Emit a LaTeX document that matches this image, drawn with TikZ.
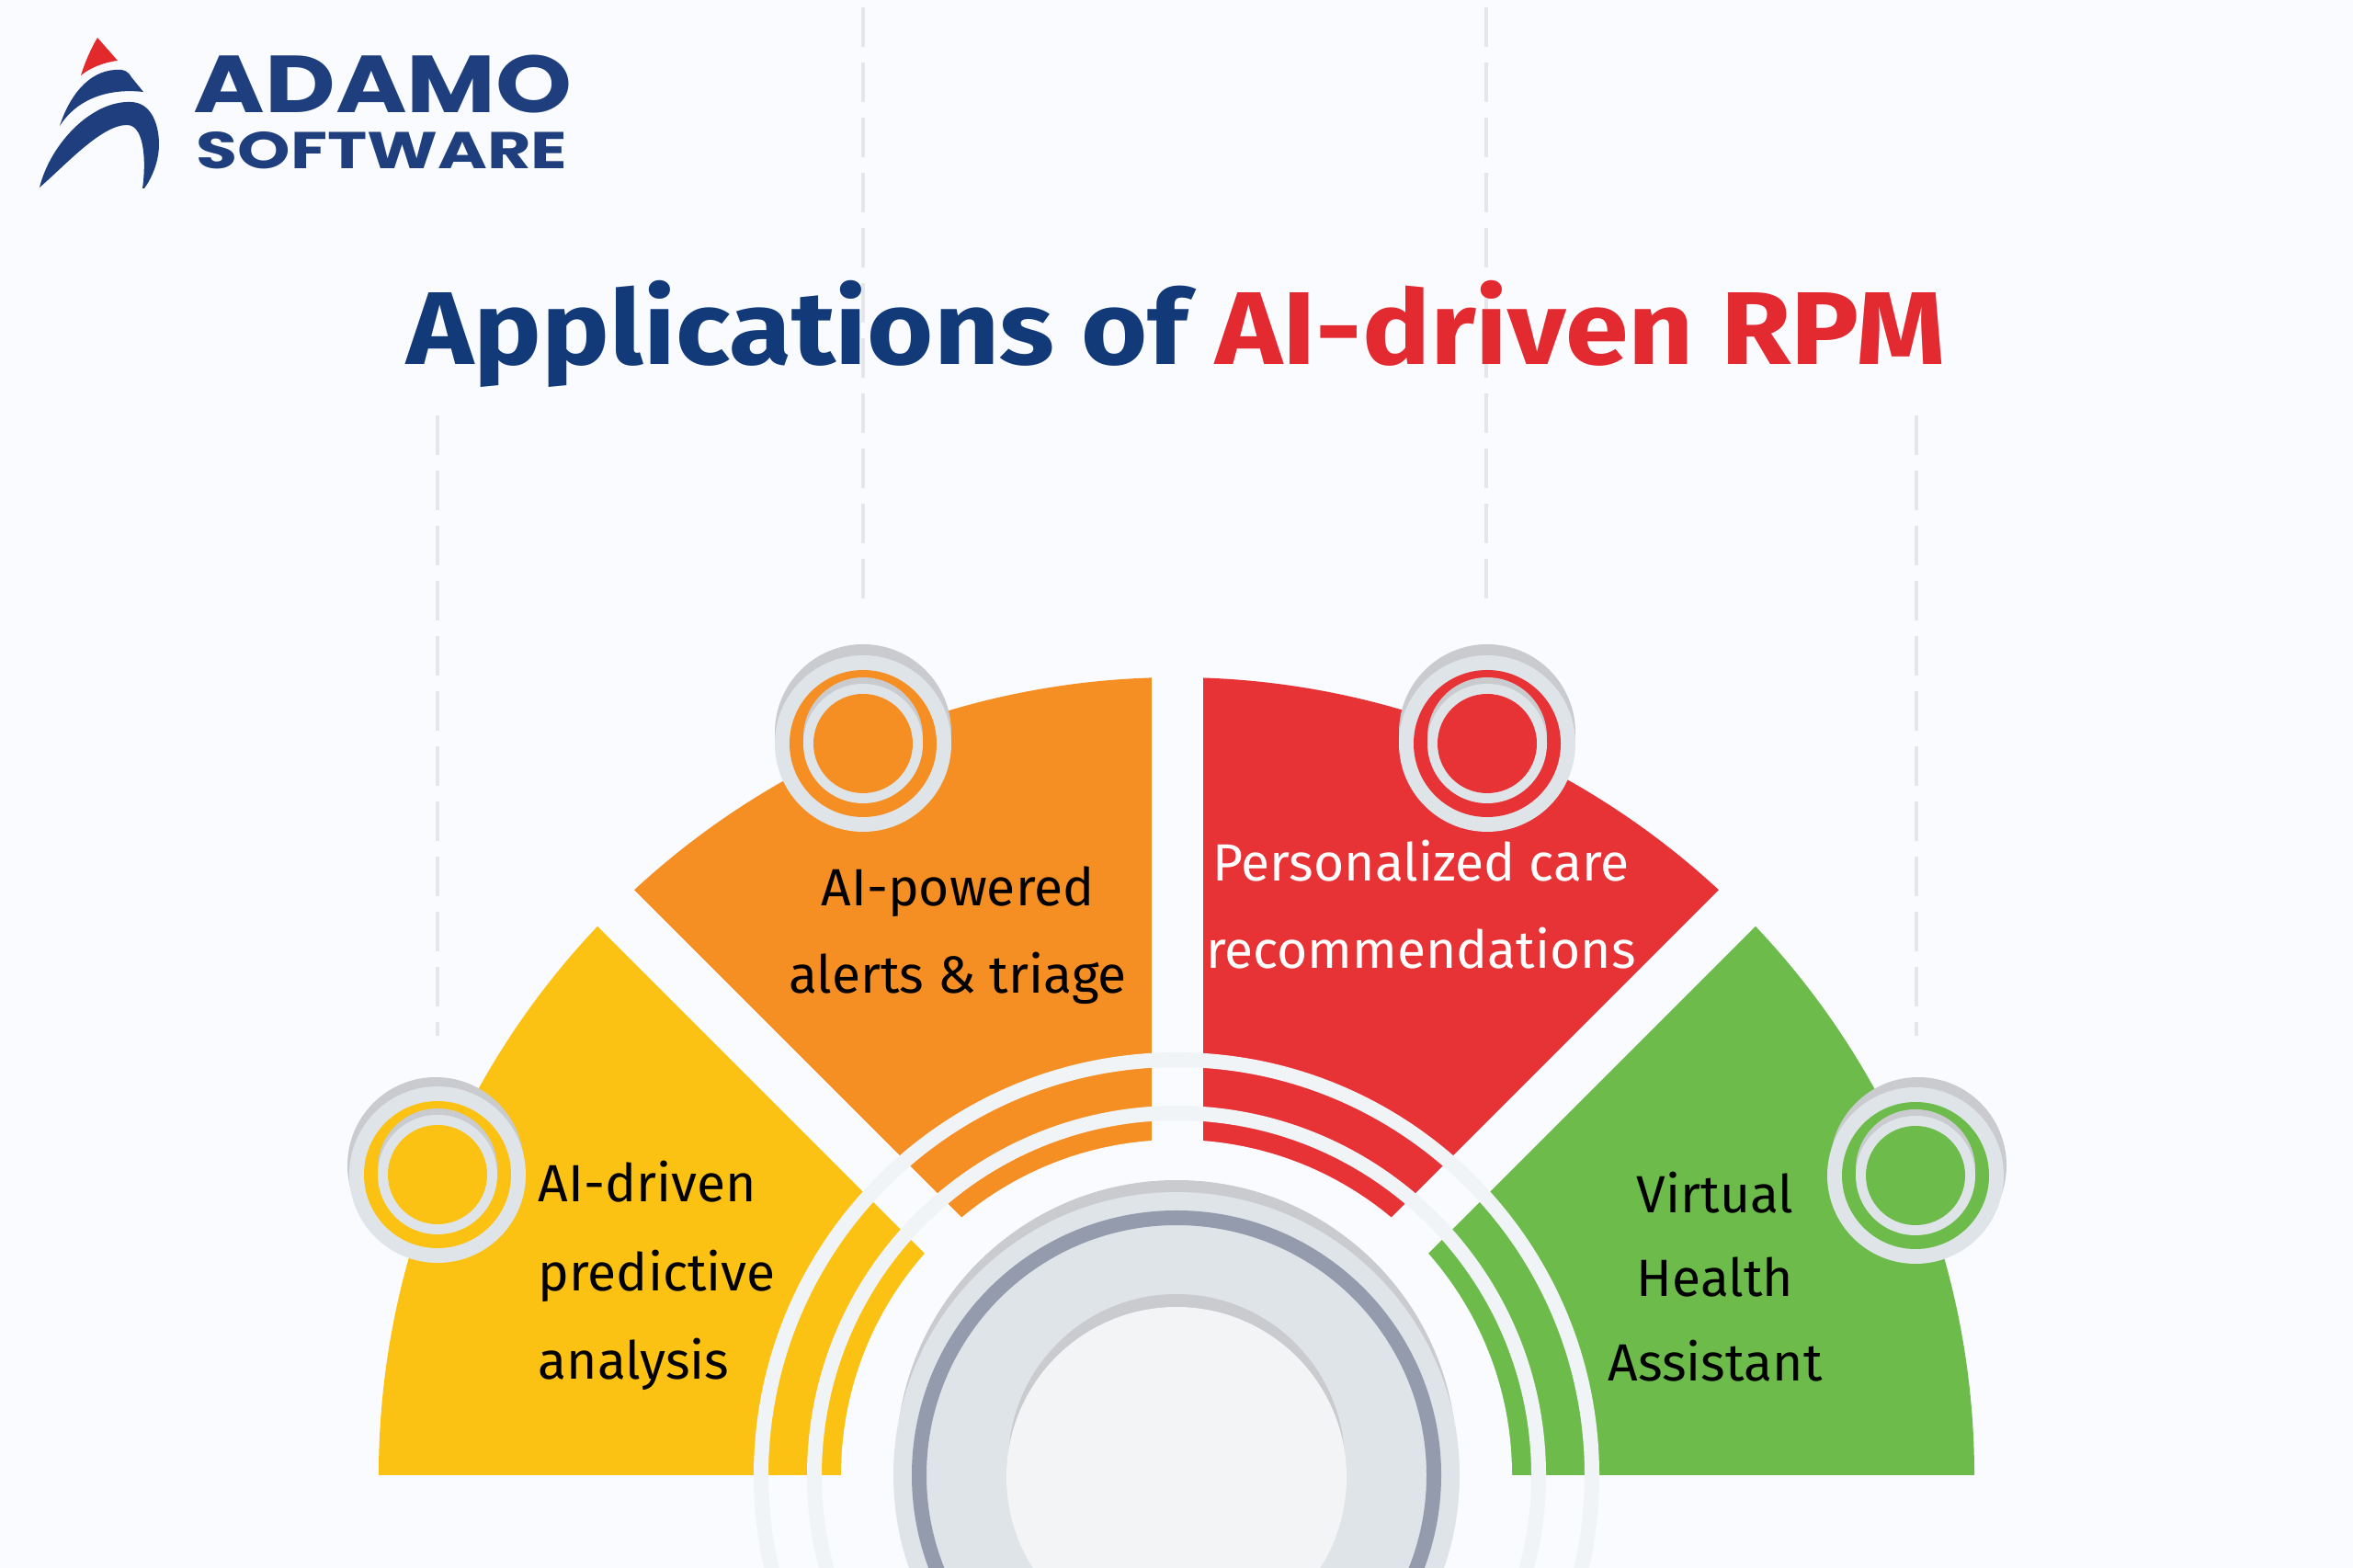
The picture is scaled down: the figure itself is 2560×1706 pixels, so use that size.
\documentclass[tikz,border=0pt]{standalone}
\usepackage{fontspec}
\setmainfont{Fira Sans}
\newfontfamily\titlefont[FakeStretch=1.1]{Fira Sans}
\newfontfamily\logofont[FakeStretch=1.3]{Poppins}
\newfontfamily\logofontwide[FakeStretch=1.2]{Poppins}

\definecolor{pagebg}{HTML}{F9FBFF}
\definecolor{secyellow}{HTML}{FBC113}
\definecolor{secorange}{HTML}{F58F24}
\definecolor{secred}{HTML}{E73236}
\definecolor{secgreen}{HTML}{6DBC4B}
\definecolor{ringgray}{HTML}{F1F4F6}
\definecolor{badgegray}{HTML}{DFE4E8}
\definecolor{shadowgray}{HTML}{C9CBCF}
\definecolor{darkring}{HTML}{939BAC}
\definecolor{coregray}{HTML}{F3F4F6}
\definecolor{dashgray}{HTML}{E4E6EC}
\definecolor{titlenavy}{HTML}{123A78}
\definecolor{titlered}{HTML}{E32A30}
\definecolor{logonavy}{HTML}{1F3E7E}
\definecolor{logored}{HTML}{E22A2C}

\tikzset{
	gapline/.style={line width=0.56cm, draw=pagebg},
	ringline/.style={line width=0.16cm, draw=ringgray},
	guideline/.style={line width=0.04cm, draw=dashgray, dash pattern=on 0.43cm off 0.17cm},
	sectortext/.style={inner sep=0pt, align=center, text=black, font=\fontsize{16.2}{27}\selectfont},
}

\begin{document}
\begin{tikzpicture}[x=0.01cm, y=0.01cm]
	\path[use as bounding box, clip] (0,0) rectangle (2560,1706);
	\fill[pagebg] (0,0) rectangle (2560,1706);

	\coordinate[](c) at (1280,101);
	\coordinate[](o) at (1280,108);
	\coordinate[](gl) at (608,780);
	\coordinate[](gb) at (1281,101);
	\coordinate[](gt) at (1281,1000);
	\coordinate[](gr) at (1952,780);
	\pgfmathsetmacro{\R}{868}

	% Guides
	\foreach \x/\ya/\yb in {476/1254/579, 939/1698/1052, 1617/1698/1052, 2085/1254/579}
	{
	\draw[guideline] (\x,\ya) -- (\x,\yb);
	}

	% Sectors
	\foreach \a/\b/\col in {180/135/secyellow, 135/90/secorange, 90/45/secred, 45/0/secgreen}
	{
	\fill[\col] (c) -- ++(\a:\R) arc[start angle=\a, end angle=\b, radius=\R] -- cycle;
	}
	\draw[gapline] (o) -- (gl);
	\draw[gapline] (o) -- (gr);
	\draw[gapline] (gb) -- (gt);
	\fill[pagebg] (c) circle (365);
	\draw[ringline] (c) circle (452);
	\draw[ringline] (c) circle (394);

	% Core
	\fill[shadowgray] (1280,117) circle (305);
	\fill[badgegray] (c) circle (308);
	\draw[line width=0.16cm, draw=darkring] (c) circle (280);
	\fill[shadowgray] (1280,115) circle (183);
	\fill[coregray] (1280,99) circle (185);

	% Badges
	\foreach \x/\y/\dx/\dy/\col in {476/428/-2/10/secyellow, 939/897/0/12/secorange, 1618/897/0/12/secred, 2084/427/3/11/secgreen}
	{
	\fill[shadowgray] (\x+\dx,\y+\dy) circle (96);
	\fill[badgegray] (\x,\y) circle (96);
	\fill[\col] (\x,\y) circle (80);
	\fill[shadowgray] (\x,\y+7) circle (65);
	\fill[badgegray] (\x,\y) circle (65);
	\fill[\col] (\x,\y) circle (54);
	}

	% Labels
	\node[sectortext, align=left, anchor=west, font=\fontsize{16.2}{27.5}\selectfont] (predictive) at (585,318) {AI-driven\\predictive\\analysis};
	\node[sectortext] (alerts) at (1042,688) {AI-powered\\alerts \& triage};
	\node[sectortext, text=white] (care) at (1546,722) {Personalized care\\recommendations};
	\node[sectortext, font=\fontsize{16.2}{26}\selectfont] (assistant) at (1866,317) {Virtual\\Health\\Assistant};

	% Title
	\node[inner sep=0pt, anchor=base west, text=titlenavy, font=\fontsize{32}{40}\selectfont\titlefont\bfseries] (title) at (442,1309) {Applications of \textcolor{titlered}{AI-driven RPM}};

	% Logo
	\fill[logored] (106,1665) -- (128,1640) .. controls (112,1638) and (98,1632) .. (88,1624) .. controls (93,1640) and (100,1655) .. (106,1665) -- cycle;
	\fill[logonavy] (65,1569) .. controls (75,1600) and (95,1628) .. (125,1630) .. controls (135,1631) and (140,1628) .. (143,1622) -- (156,1606) .. controls (120,1610) and (85,1600) .. (65,1569) -- cycle;
	\fill[logonavy] (43,1502) .. controls (55,1550) and (100,1597) .. (143,1595) .. controls (165,1594) and (173,1570) .. (173,1549) .. controls (173,1530) and (165,1512) .. (157,1501) -- (155,1501) .. controls (158,1520) and (160,1570) .. (138,1570) .. controls (110,1570) and (70,1525) .. (43,1502) -- cycle;
	\node[inner sep=0pt, anchor=base west, text=logonavy, font=\fontsize{25}{25}\selectfont\logofontwide\bfseries] (adamo) at (210,1583) {ADAMO};
	\node[inner sep=0pt, anchor=base west, text=logonavy, font=\fontsize{16}{16}\selectfont\logofont\bfseries] (software) at (213,1522) {SOFTWARE};
\end{tikzpicture}
\end{document}
